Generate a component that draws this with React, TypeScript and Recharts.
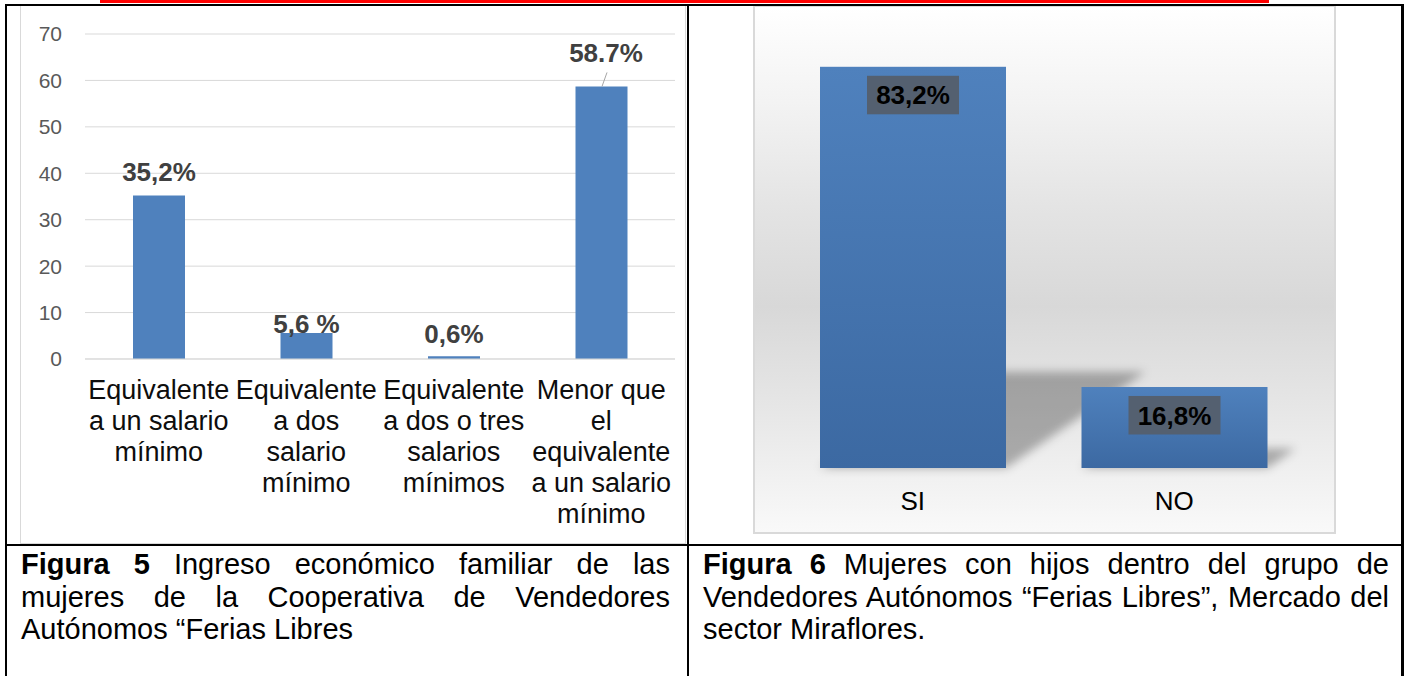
import React from 'react';
import { BarChart, Bar, XAxis, YAxis, CartesianGrid, LabelList } from 'recharts';

// ---------- data ----------
const incomeCategories = [
  'Equivalente\na un salario\nmínimo',
  'Equivalente\na dos\nsalario\nmínimo',
  'Equivalente\na dos o tres\nsalarios\nmínimos',
  'Menor que\nel\nequivalente\na un salario\nmínimo',
];
const incomeValues = [35.2, 5.6, 0.6, 58.7];
const incomeLabels = ['35,2%', '5,6 %', '0,6%', '58.7%'];
const incomeTicks = [0, 10, 20, 30, 40, 50, 60, 70];

const childCategories = ['SI', 'NO'];
const childValues = [83.2, 16.8];
const childLabels = ['83,2%', '16,8%'];

// ---------- layout (label placement as in the original) ----------
const incomeLabelLift = [15, 0, 13, 24];
const incomeLabelShift = [0, 0, 0, 4.5];

const FONT = '"Liberation Sans", Arial, Helvetica, sans-serif';

const incomeData = incomeCategories.map((name, i) => ({
  name,
  value: incomeValues[i],
  label: incomeLabels[i],
}));
const childData = childCategories.map((name, i) => ({
  name,
  value: childValues[i],
  label: childLabels[i],
}));

const IncomeTick = (props: any) => {
  const { x, y, payload } = props;
  const lines = String(payload.value).split('\n');
  return (
    <text x={x} y={y + 40} textAnchor="middle" fontSize={27} fill="#0d0d0d" fontFamily={FONT}>
      {lines.map((l, i) => (
        <tspan key={i} x={x} dy={i === 0 ? 0 : 31}>
          {l}
        </tspan>
      ))}
    </text>
  );
};

const IncomeLabel = (props: any) => {
  const vb = props.viewBox || {};
  const x = props.x ?? vb.x;
  const y = props.y ?? vb.y;
  const width = props.width ?? vb.width;
  const index = props.index ?? 0;
  const cx = x + width / 2;
  const lift = incomeLabelLift[index] ?? 12;
  const shift = incomeLabelShift[index] ?? 0;
  return (
    <g>
      {index === 3 && (
        <line x1={cx + 5.5} y1={y - 14} x2={cx + 0.5} y2={y} stroke="#a6a6a6" strokeWidth={1} />
      )}
      <text
        x={cx + shift}
        y={y - lift}
        textAnchor="middle"
        fontSize={26}
        fontWeight="bold"
        fill="#404040"
        fontFamily={FONT}
      >
        {props.value}
      </text>
    </g>
  );
};

const ChildTick = (props: any) => {
  const { x, y, payload } = props;
  return (
    <text x={x} y={y + 42} textAnchor="middle" fontSize={26} fill="#000" fontFamily={FONT}>
      {payload.value}
    </text>
  );
};

const ChildLabel = (props: any) => {
  const vb = props.viewBox || {};
  const x = props.x ?? vb.x;
  const y = props.y ?? vb.y;
  const width = props.width ?? vb.width;
  const cx = x + width / 2;
  const bw = 92;
  const bh = 38.5;
  const top = y + 9;
  return (
    <g>
      <rect x={cx - bw / 2} y={top} width={bw} height={bh} fill="#546070" />
      <text
        x={cx}
        y={top + bh / 2 + 9.3}
        textAnchor="middle"
        fontSize={26}
        fontWeight="bold"
        fill="#000"
        fontFamily={FONT}
      >
        {props.value}
      </text>
    </g>
  );
};

const ShadowBar = (props: any) => {
  const { x, y, width, height } = props;
  if (width == null || height == null) return null;
  const base = y + height;
  const sh = height * 0.24;
  const skew = sh * 1.45;
  return (
    <g>
      <polygon
        points={`${x},${base} ${x + width},${base} ${x + width + skew},${base - sh} ${x + skew},${base - sh}`}
        fill="#000"
        fillOpacity={0.29}
        filter="url(#shadowBlur)"
      />
      <rect x={x} y={y} width={width} height={height} fill="url(#barGrad)" />
    </g>
  );
};

const captionLine = (justify: boolean): React.CSSProperties => ({
  height: 32.5,
  lineHeight: '32.5px',
  whiteSpace: 'nowrap',
  textAlign: justify ? 'justify' : 'left',
  textAlignLast: justify ? 'justify' : 'left',
  overflow: 'visible',
});

const blk = (s: React.CSSProperties): React.CSSProperties => ({
  position: 'absolute',
  background: '#000',
  ...s,
});

export default function App() {
  return (
    <div
      style={{
        position: 'absolute',
        left: 0,
        top: 0,
        width: 1406,
        height: 676,
        background: '#fff',
        overflow: 'hidden',
        fontFamily: FONT,
      }}
    >
      {/* red line at top */}
      <div style={{ position: 'absolute', left: 100, top: 0, width: 1169, height: 3, background: '#ff0000' }} />

      {/* left chart frame */}
      <div
        style={{
          position: 'absolute',
          left: 20,
          top: 5,
          width: 666,
          height: 539,
          border: '1px solid #d9d9d9',
          boxSizing: 'border-box',
        }}
      />
      <div style={{ position: 'absolute', left: 20, top: 5 }}>
        <BarChart
          width={666}
          height={539}
          data={incomeData}
          margin={{ top: 29, right: 11, bottom: 0, left: 0 }}
        >
          <CartesianGrid vertical={false} stroke="#d9d9d9" strokeWidth={1} />
          <XAxis
            dataKey="name"
            height={185}
            interval={0}
            tickLine={false}
            tickSize={0}
            tickMargin={0}
            axisLine={{ stroke: '#d9d9d9' }}
            tick={IncomeTick}
          />
          <YAxis
            width={65}
            domain={[0, 70]}
            ticks={incomeTicks}
            interval={0}
            axisLine={false}
            tickLine={false}
            tickSize={0}
            tickMargin={23}
            tick={{ fontSize: 21, fill: '#595959', fontFamily: FONT }}
          />
          <Bar dataKey="value" fill="#4f81bd" barSize={52} isAnimationActive={false}>
            <LabelList dataKey="label" content={IncomeLabel} />
          </Bar>
        </BarChart>
      </div>

      {/* right chart background + frame */}
      <div
        style={{
          position: 'absolute',
          left: 753,
          top: 5,
          width: 583,
          height: 529,
          border: '2px solid #d9d9d9',
          boxSizing: 'border-box',
          background:
            'linear-gradient(to bottom, #ffffff 0%, #f3f3f3 18%, #e4e4e4 38%, #d8d8d8 57%, #e6e6e6 76%, #f1f1f1 90%, #f9f9f9 100%)',
        }}
      />
      <div style={{ position: 'absolute', left: 753, top: 5 }}>
        <BarChart
          width={582}
          height={528}
          data={childData}
          margin={{ top: 29, right: 30, bottom: 0, left: 29 }}
        >
          <defs>
            <linearGradient id="barGrad" x1="0" y1="0" x2="0" y2="1">
              <stop offset="0%" stopColor="#4f81bd" />
              <stop offset="100%" stopColor="#3c69a2" />
            </linearGradient>
            <filter id="shadowBlur" x="-50%" y="-50%" width="200%" height="200%">
              <feGaussianBlur stdDeviation="5" />
            </filter>
          </defs>
          <XAxis
            dataKey="name"
            height={65}
            interval={0}
            tickLine={false}
            tickSize={0}
            tickMargin={0}
            axisLine={false}
            tick={ChildTick}
          />
          <YAxis hide domain={[0, 90]} />
          <Bar dataKey="value" barSize={186} shape={ShadowBar} isAnimationActive={false}>
            <LabelList dataKey="label" content={ChildLabel} />
          </Bar>
        </BarChart>
      </div>

      {/* captions */}
      <div style={{ position: 'absolute', left: 21, top: 548, width: 649, fontSize: 29, color: '#000' }}>
        <div style={captionLine(true)}>
          <b>Figura 5</b> Ingreso económico familiar de las
        </div>
        <div style={captionLine(true)}>mujeres de la Cooperativa de Vendedores</div>
        <div style={captionLine(false)}>Autónomos “Ferias Libres</div>
      </div>
      <div style={{ position: 'absolute', left: 703, top: 548, width: 686, fontSize: 29, color: '#000' }}>
        <div style={captionLine(true)}>
          <b>Figura 6</b> Mujeres con hijos dentro del grupo de
        </div>
        <div style={captionLine(true)}>Vendedores Autónomos “Ferias Libres”, Mercado del</div>
        <div style={captionLine(false)}>sector Miraflores.</div>
      </div>

      {/* table borders */}
      <div style={blk({ left: 5, top: 4, width: 1399, height: 2 })} />
      <div style={blk({ left: 5, top: 4, width: 2, height: 672 })} />
      <div style={blk({ left: 687, top: 4, width: 2, height: 672 })} />
      <div style={blk({ left: 1401, top: 4, width: 3, height: 672 })} />
      <div style={blk({ left: 5, top: 544, width: 1399, height: 2 })} />
    </div>
  );
}
